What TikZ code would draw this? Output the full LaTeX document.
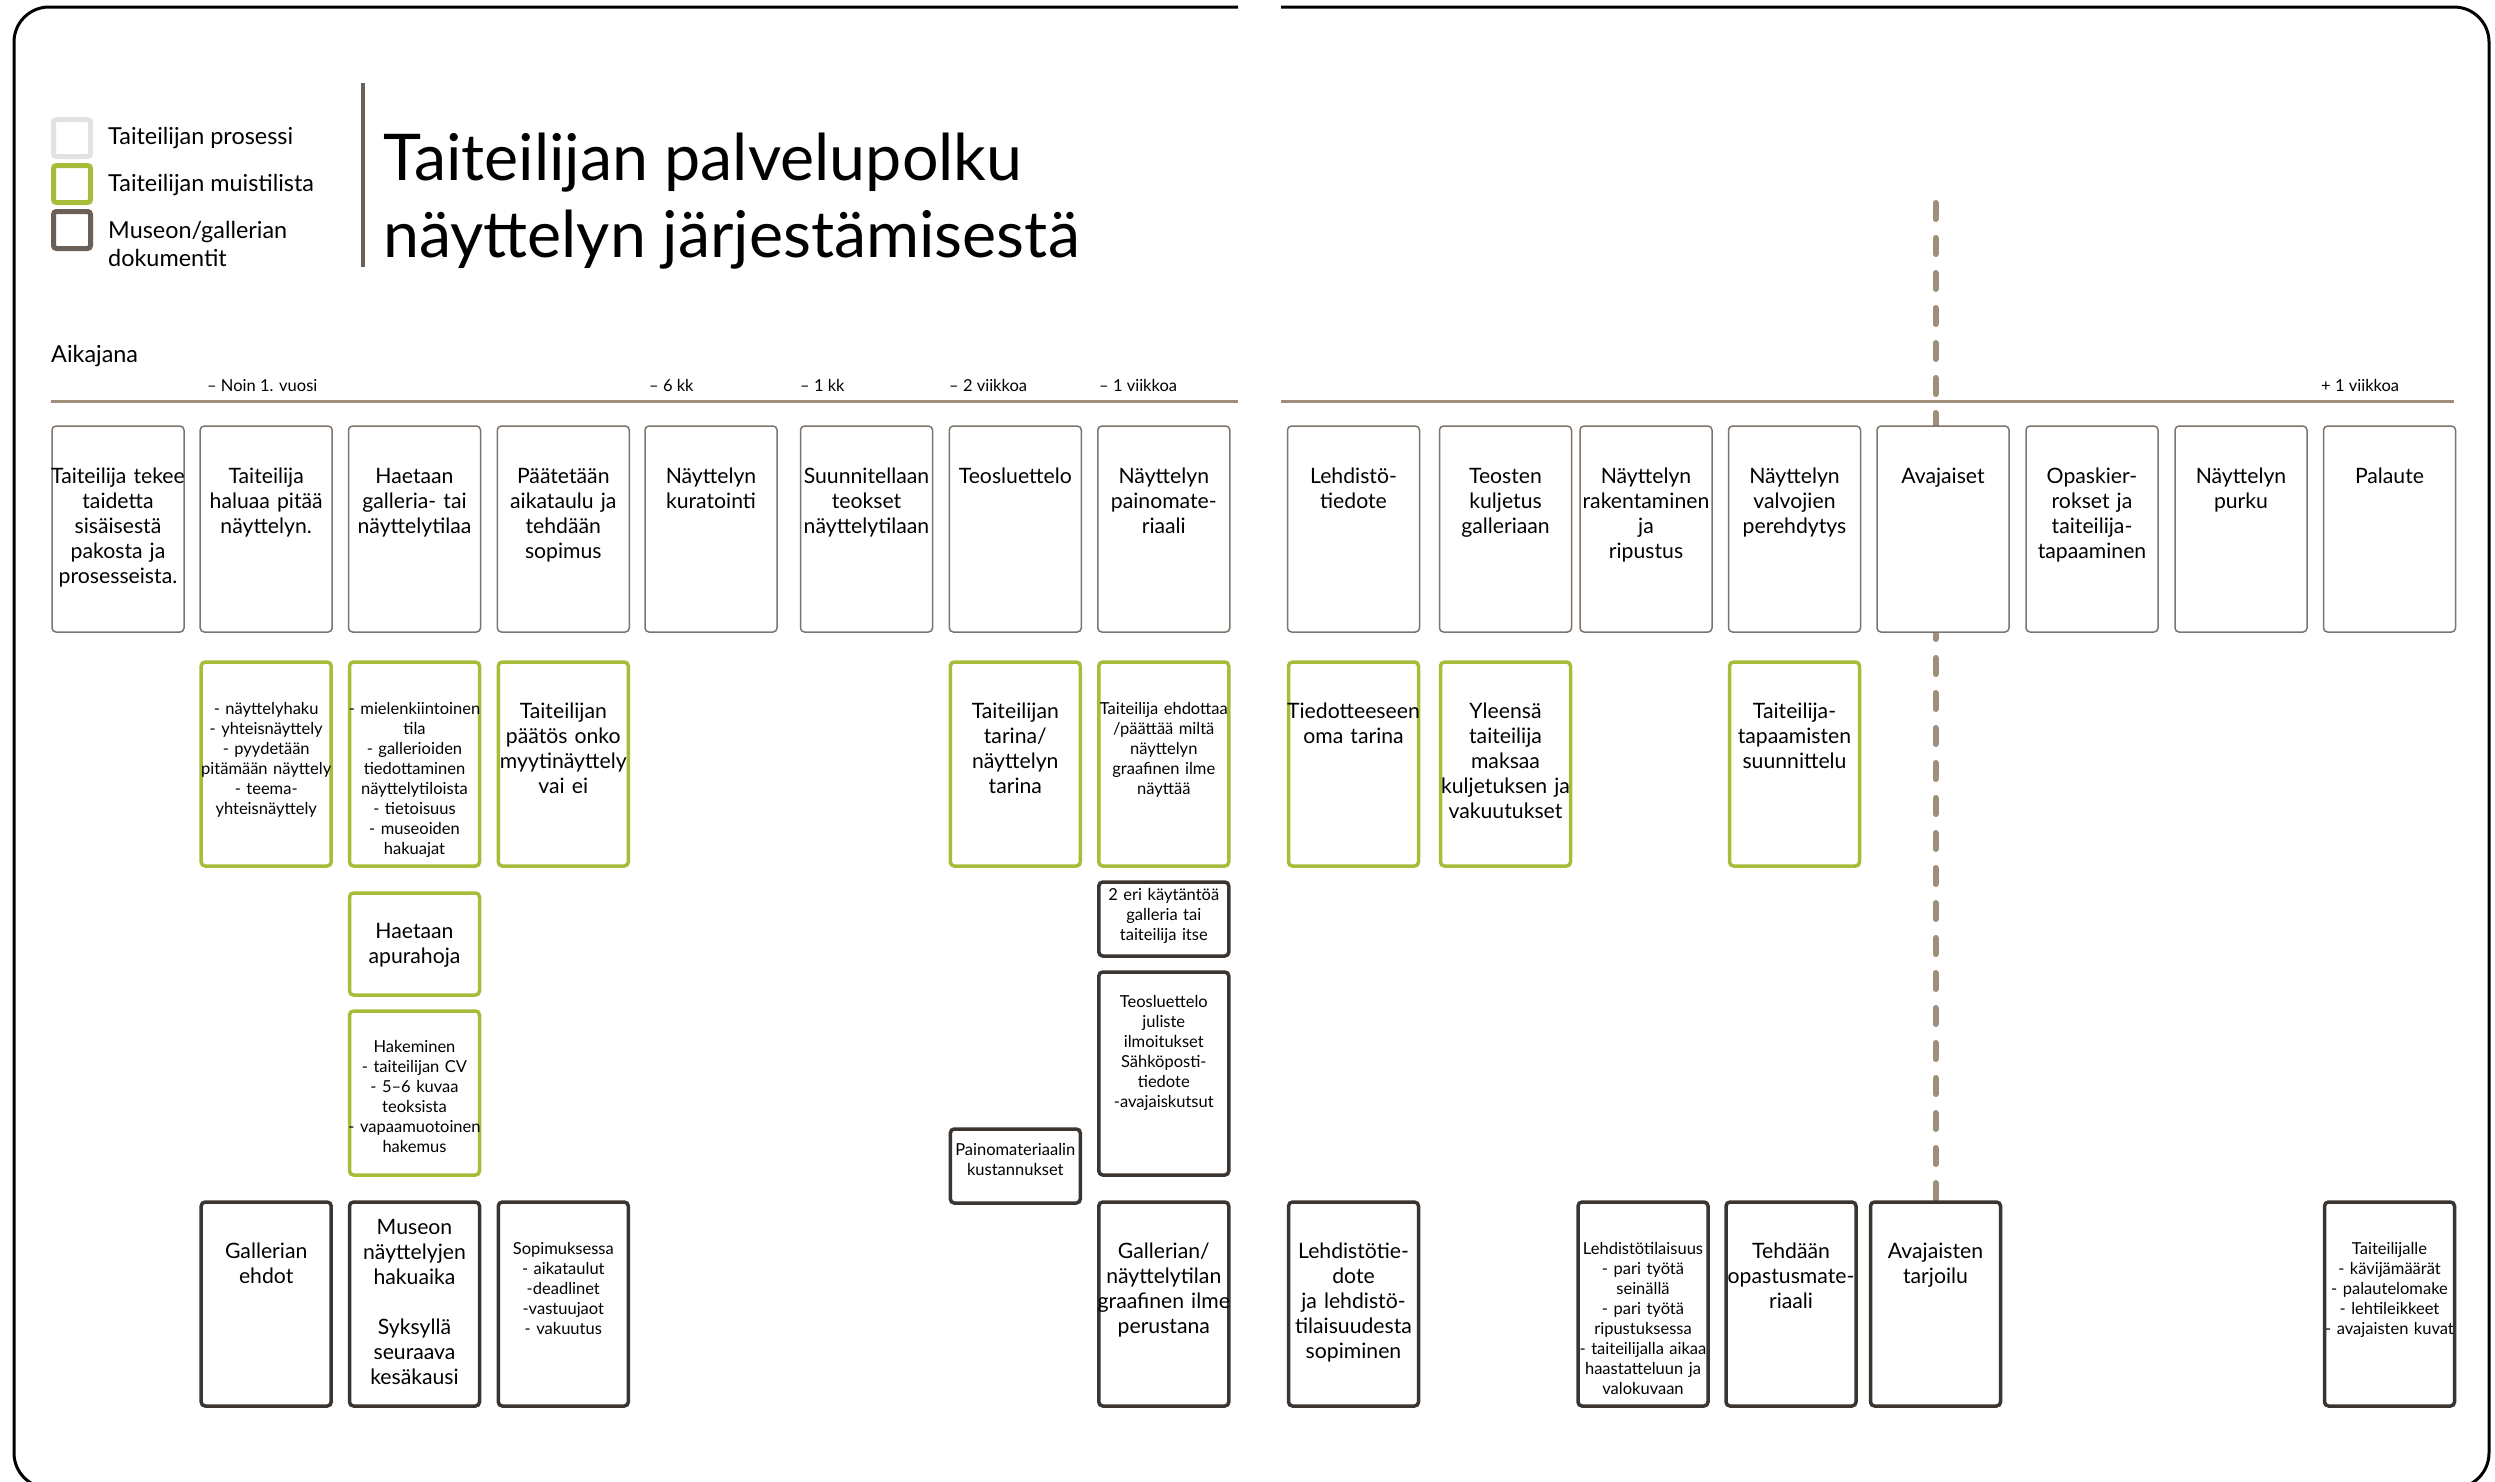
\documentclass[tikz,border=0pt]{standalone}
\usepackage{fontspec}
\setmainfont{Lato}
\usepackage{tikz}
\usetikzlibrary{positioning, backgrounds}

\definecolor{prosessiharmaa}{HTML}{7D746D}
\definecolor{legendaharmaa}{HTML}{E2E2E2}
\definecolor{muistivihrea}{HTML}{A8BC3A}
\definecolor{dokutumma}{HTML}{3B3532}
\definecolor{taupe}{HTML}{6B6058}
\definecolor{aikaviiva}{HTML}{9E8E7A}

\newcommand{\isoteksti}{\fontsize{21.2}{25}\selectfont}
\newcommand{\pieniteksti}{\fontsize{16.5}{20}\selectfont}
\newcommand{\selitefontti}{\fontsize{23.4}{28}\selectfont}
\newcommand{\keskita}{\centering\leftskip=0pt plus 1fil minus 14pt\rightskip=0pt plus 1fil minus 14pt\hyphenpenalty=10000\exhyphenpenalty=10000}

\begin{document}
\begin{tikzpicture}[
    x=1pt, y=-1pt,
    kortti/.style={rounded corners=4pt, fill=white, inner sep=0pt, outer sep=0pt, anchor=north, font=\isoteksti, execute at begin node=\keskita},
    prosessi/.style={kortti, draw=prosessiharmaa, line width=1.5pt, text width=132pt, text height=57pt, text depth=149pt},
    muisti/.style={kortti, draw=muistivihrea, line width=3.5pt, text width=130pt, text height=56pt, text depth=148pt},
    dokumentti/.style={kortti, draw=dokutumma, line width=3.5pt, text width=130pt, text height=56pt, text depth=148pt},
    pieni/.style={font=\pieniteksti, text height=52pt, text depth=152pt},
    selite/.style={draw=#1, line width=5pt, rounded corners=3pt, minimum size=37pt, inner sep=0pt},
    aikamerkki/.style={anchor=base west, font=\fontsize{16.5}{19}\selectfont, inner sep=0pt}
  ]
    \useasboundingbox (0,0) rectangle (2495,1481);
    \begin{scope}[on background layer]
      \fill[white] (0,0) rectangle (2495,1481);
    \end{scope}

    % Kehys
    \draw[line width=3pt, rounded corners=35pt] (1238,7) -- (14,7) -- (14,1488) -- (2489,1488) -- (2489,7) -- (1281,7);

    % Selitteet
    \node[selite=legendaharmaa] (s1) at (72,138) {};
    \node[selite=muistivihrea] (s2) at (72,184) {};
    \node[selite=taupe] (s3) at (72,230) {};
    \node[anchor=base west, inner sep=0pt, font=\selitefontti] (s1txt) at (108,144) {Taiteilijan prosessi};
    \node[anchor=base west, inner sep=0pt, font=\selitefontti] (s2txt) at (108,191) {Taiteilijan muistilista};
    \node[anchor=base west, inner sep=0pt, align=left, font=\selitefontti] (s3txt) at (108,266) {Museon/gallerian\\dokumentit};

    % Otsikko
    \draw[taupe, line width=4pt] (363,83) -- (363,267);
    \node[anchor=base west, inner sep=0pt, align=left, font=\fontsize{64.5}{77}\selectfont] (otsikko) at (383,257) {Taiteilijan palvelupolku\\näyttelyn järjestämisestä};

    % Aikajana
    \node[anchor=base west, inner sep=0pt, font=\selitefontti] (aikajana) at (51,362) {Aikajana};
    \draw[aikaviiva, line width=3pt] (51,401) -- (1238,401);
    \draw[aikaviiva, line width=3pt] (1281,401) -- (2454,401);
    \node[aikamerkki] (t1) at (207,391) {– Noin 1. vuosi};
    \node[aikamerkki] (t2) at (649,391) {– 6 kk};
    \node[aikamerkki] (t3) at (800,391) {– 1 kk};
    \node[aikamerkki] (t4) at (949,391) {– 2 viikkoa};
    \node[aikamerkki] (t5) at (1099,391) {– 1 viikkoa};
    \node[aikamerkki] (t6) at (2321,391) {+ 1 viikkoa};

    % Taiteilijan prosessi
    \node[prosessi] (p1) at (118,426) {Taiteilija tekee\\taidetta\\sisäisestä\\pakosta ja\\prosesseista.};
    \node[prosessi] (p2) at (266.2,426) {Taiteilija\\haluaa pitää\\näyttelyn.};
    \node[prosessi] (p3) at (414.5,426) {Haetaan\\galleria- tai\\näyttelytilaa};
    \node[prosessi] (p4) at (563.3,426) {Päätetään\\aikataulu ja\\tehdään\\sopimus};
    \node[prosessi] (p5) at (711,426) {Näyttelyn\\kuratointi};
    \node[prosessi] (p6) at (866.5,426) {Suunnitellaan\\teokset\\näyttelytilaan};
    \node[prosessi] (p7) at (1015.3,426) {Teosluettelo};
    \node[prosessi] (p8) at (1163.8,426) {Näyttelyn\\painomate-\\riaali};
    \node[prosessi] (p9) at (1353.5,426) {Lehdistö-\\tiedote};
    \node[prosessi] (p10) at (1505.5,426) {Teosten\\kuljetus\\galleriaan};
    \node[prosessi] (p11) at (1646,426) {Näyttelyn\\rakentaminen\\ja\\ripustus};
    \node[prosessi] (p12) at (1794.5,426) {Näyttelyn\\valvojien\\perehdytys};
    \node[prosessi] (p13) at (1943,426) {Avajaiset};
    \node[prosessi] (p14) at (2092,426) {Opaskier-\\rokset ja\\taiteilija-\\tapaaminen};
    \node[prosessi] (p15) at (2241,426) {Näyttelyn\\purku};
    \node[prosessi] (p16) at (2389.5,426) {Palaute};

    % Taiteilijan muistilista
    \node[muisti, pieni] (m2) at (266.2,662) {- näyttelyhaku\\- yhteisnäyttely\\- pyydetään\\pitämään näyttely\\- teema-\\yhteisnäyttely};
    \node[muisti, pieni] (m3) at (414.5,662) {- mielenkiintoinen\\tila\\- gallerioiden\\tiedottaminen\\näyttelytiloista\\- tietoisuus\\- museoiden\\hakuajat};
    \node[muisti] (m4) at (563.3,662) {Taiteilijan\\päätös onko\\myytinäyttely\\vai ei};
    \node[muisti] (m7) at (1015.3,662) {Taiteilijan\\tarina/\\näyttelyn\\tarina};
    \node[muisti, pieni] (m8) at (1163.8,662) {Taiteilija ehdottaa\\/päättää miltä\\näyttelyn\\graafinen ilme\\näyttää};
    \node[muisti] (m9) at (1353.5,662) {Tiedotteeseen\\oma tarina};
    \node[muisti] (m10) at (1505.5,662) {Yleensä\\taiteilija\\maksaa\\kuljetuksen ja\\vakuutukset};
    \node[muisti] (m12) at (1794.5,662) {Taiteilija-\\tapaamisten\\suunnittelu};
    \node[muisti, below=27pt of m3, text height=45pt, text depth=57pt] (apu) {Haetaan\\apurahoja};
    \node[muisti, pieni, below=16pt of apu, text height=41pt, text depth=123pt] (hak) {Hakeminen\\- taiteilijan CV\\- 5–6 kuvaa\\teoksista\\- vapaamuotoinen\\hakemus};

    % Museon/gallerian dokumentit
    \node[dokumentti, pieni, below=16pt of m8, text height=18pt, text depth=56pt] (kay) {2 eri käytäntöä\\galleria tai\\taiteilija itse};
    \node[dokumentti, pieni, below=16pt of kay, text height=35pt, text depth=168pt] (julk) {Teosluettelo\\juliste\\ilmoitukset\\Sähköposti-\\tiedote\\-avajaiskutsut};
    \node[dokumentti, pieni, text height=26pt, text depth=48pt] (paino) at (1015.3,1129) {Painomateriaalin\\kustannukset};
    \node[dokumentti] (d2) at (266.2,1202) {Gallerian\\ehdot};
    \node[dokumentti, text height=32pt, text depth=172pt] (d3) at (414.5,1202) {Museon\\näyttelyjen\\hakuaika\\[25pt]Syksyllä\\seuraava\\kesäkausi};
    \node[dokumentti, pieni] (d4) at (563.3,1202) {Sopimuksessa\\- aikataulut\\-deadlinet\\-vastuujaot\\- vakuutus};
    \node[dokumentti] (d8) at (1163.8,1202) {Gallerian/\\näyttelytilan\\graafinen ilme\\perustana};
    \node[dokumentti] (d9) at (1353.5,1202) {Lehdistötie-\\dote\\ja lehdistö-\\tilaisuudesta\\sopiminen};
    \node[dokumentti, pieni] (d11) at (1643,1202) {Lehdistötilaisuus\\- pari työtä\\seinällä\\- pari työtä\\ripustuksessa\\- taiteilijalla aikaa\\haastatteluun ja\\valokuvaan};
    \node[dokumentti] (d12) at (1791,1202) {Tehdään\\opastusmate-\\riaali};
    \node[dokumentti] (d13) at (1935.5,1202) {Avajaisten\\tarjoilu};
    \node[dokumentti, pieni] (d16) at (2389.5,1202) {Taiteilijalle\\- kävijämäärät\\- palautelomake\\- lehtileikkeet\\- avajaisten kuvat};

    % Avajaisten katkoviiva
    \coordinate (avajaisalku) at (1935.5,203);
    \begin{scope}[on background layer]
      \draw[aikaviiva, line width=6pt, line cap=round, dash pattern=on 16pt off 19pt] (avajaisalku) -- (d13.north);
    \end{scope}
  \end{tikzpicture}
\end{document}
